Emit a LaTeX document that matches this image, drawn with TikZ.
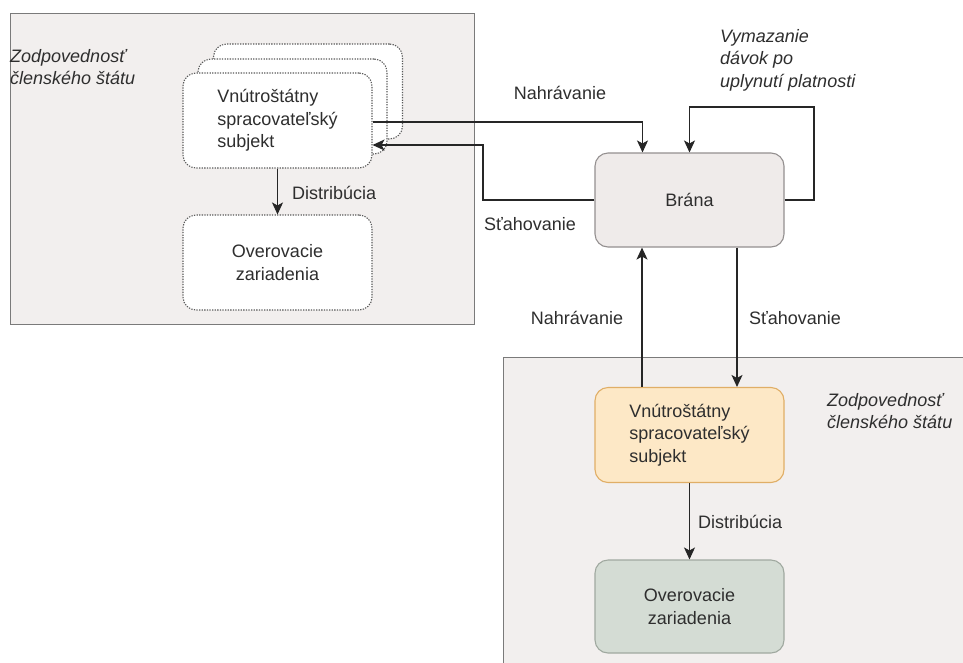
\documentclass[tikz,border=0pt]{standalone}
\usepackage{fontspec}
\setmainfont{Liberation Sans}
\usetikzlibrary{arrows.meta,calc}
\definecolor{txt}{HTML}{2E2E2E}
\definecolor{contfill}{HTML}{F2EFEE}
\definecolor{contdraw}{HTML}{7A7A7A}
\definecolor{branafill}{HTML}{EFEBEA}
\definecolor{branadraw}{HTML}{949090}
\definecolor{orfill}{HTML}{FDE8C6}
\definecolor{ordraw}{HTML}{E0AE66}
\definecolor{grfill}{HTML}{D4DCD4}
\definecolor{grdraw}{HTML}{A0A9A0}
\definecolor{dotc}{HTML}{5A5A5A}
\definecolor{linec}{HTML}{262626}
\tikzset{
  container/.style={draw=contdraw, fill=contfill, line width=1.3pt, inner sep=0pt},
  bx/.style={rounded corners=13pt, minimum width=189pt, minimum height=95pt, inner sep=2pt, line width=1.1pt, align=center},
  dotbox/.style={bx, draw=dotc, fill=white, dash pattern=on 1.3pt off 1.3pt},
  lbl/.style={inner sep=1pt},
  ilbl/.style={inner sep=1pt, font=\fontsize{18}{22.5}\selectfont\itshape, align=left},
  conn/.style={draw=linec, line width=1.2pt, -{Stealth[length=12pt,width=11pt,inset=3pt]}},
}
\begin{document}
\begin{tikzpicture}[x=1pt,y=-1pt, font=\fontsize{18}{22.5}\selectfont, text=txt]
\useasboundingbox[fill=white] (0,0) rectangle (963,662);
% containers
\node[container, anchor=north west, minimum width=464pt, minimum height=311pt] (leftc) at (10,13) {};
\node[container, anchor=north west, minimum width=480pt, minimum height=330pt] (rightc) at (503,357) {};
% stacked boxes
\node[dotbox] (back) at (308,91.5) {};
\node[dotbox] (mid) at (292.5,106.5) {};
\node[dotbox, align=left] (front) at (277.5,120.5) {Vnútroštátny\\spracovateľský\\subjekt};
\node[dotbox] (ldev) at (277.5,262.5) {Overovacie\\zariadenia};
% brana
\node[bx, draw=branadraw, fill=branafill, minimum height=94pt] (brana) at (689.5,200) {Brána};
% right boxes
\node[bx, draw=ordraw, fill=orfill, align=left] (orange) at (689.5,435) {Vnútroštátny\\spracovateľský\\subjekt};
\node[bx, draw=grdraw, fill=grfill, minimum height=93pt] (green) at (689.5,606.5) {Overovacie\\zariadenia};
% labels
\node[ilbl, anchor=west] (lzod) at (9,67) {Zodpovednosť\\členského štátu};
\node[ilbl, anchor=west] (rzod) at (826,411) {Zodpovednosť\\členského štátu};
\node[ilbl, anchor=west] (vym) at (719,60) {Vymazanie\\dávok po\\uplynutí platnosti};
\node[lbl] (nah1) at (560,93) {Nahrávanie};
\node[lbl] (sta1) at (530,224) {Sťahovanie};
\node[lbl] (nah2) at (577,318) {Nahrávanie};
\node[lbl] (sta2) at (795,318) {Sťahovanie};
\node[lbl, anchor=west] (dis1) at (291,193) {Distribúcia};
\node[lbl, anchor=west] (dis2) at (697,522) {Distribúcia};
% connectors
\coordinate (upin) at ($(brana.north)+(-47,0)$);
\draw[conn] ($(front.east)+(0,1.5)$) -| (upin);
\coordinate (bend1) at (483,200);
\draw[conn] (brana.west) -- (bend1) |- ($(front.east)+(0,24.5)$);
\coordinate (loopc) at (814,107);
\draw[conn] (brana.east) -| (loopc) -| (brana.north);
\draw[conn] (front.south) -- (ldev.north);
\draw[conn] ($(orange.north)+(-47.5,0)$) -- ($(brana.south)+(-47.5,0)$);
\draw[conn] ($(brana.south)+(47.5,0)$) -- ($(orange.north)+(47.5,0)$);
\draw[conn] (orange.south) -- (green.north);
\end{tikzpicture}
\end{document}
